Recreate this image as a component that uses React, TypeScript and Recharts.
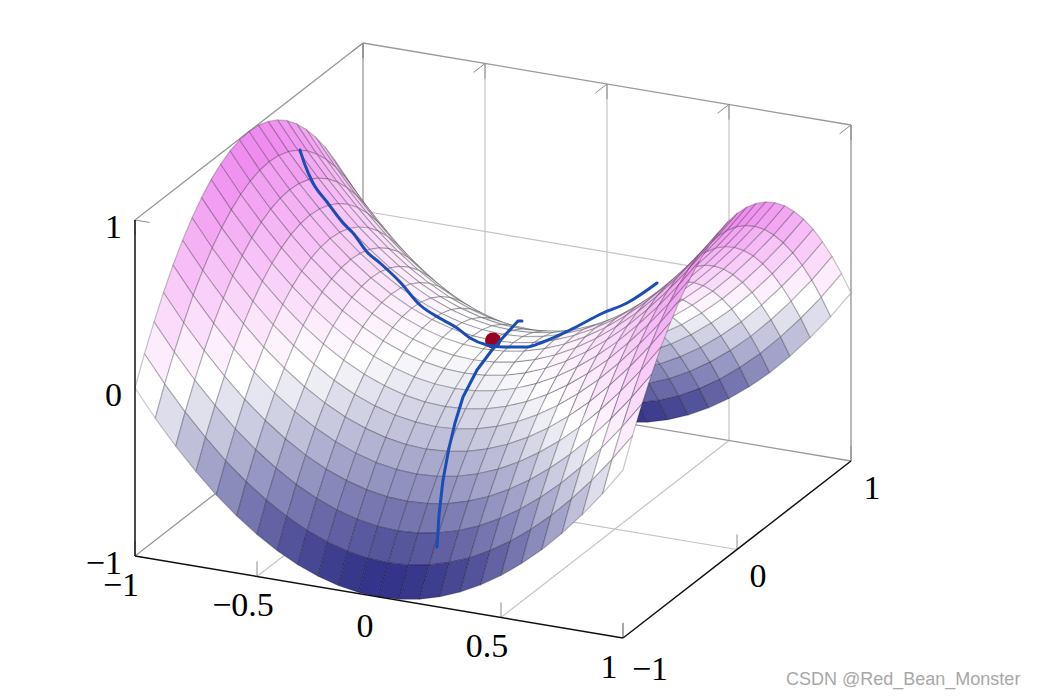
import React from 'react'
import { ScatterChart, Scatter, XAxis, YAxis } from 'recharts'

const WIDTH = 1044
const HEIGHT = 698

// sampled grid of the saddle
const xGrid = [-1, -0.917, -0.833, -0.75, -0.667, -0.583, -0.5, -0.417, -0.333, -0.25, -0.167, -0.083, 0, 0.083, 0.167, 0.25, 0.333, 0.417, 0.5, 0.583, 0.667, 0.75, 0.833, 0.917, 1]
const yGrid = xGrid

const zEdge = [0, -0.16, -0.306, -0.437, -0.556, -0.66, -0.75, -0.826, -0.889, -0.937, -0.972, -0.993, -1, -0.993, -0.972, -0.937, -0.889, -0.826, -0.75, -0.66, -0.556, -0.437, -0.306, -0.16, 0]
const z11 = [0.16, 0, -0.146, -0.277, -0.396, -0.5, -0.59, -0.666, -0.729, -0.777, -0.812, -0.833, -0.84, -0.833, -0.812, -0.777, -0.729, -0.666, -0.59, -0.5, -0.396, -0.277, -0.146, 0, 0.16]
const z10 = [0.306, 0.146, 0, -0.131, -0.25, -0.354, -0.444, -0.52, -0.583, -0.631, -0.666, -0.687, -0.694, -0.687, -0.666, -0.631, -0.583, -0.52, -0.444, -0.354, -0.25, -0.131, 0, 0.146, 0.306]
const z9 = [0.437, 0.277, 0.131, 0, -0.119, -0.223, -0.313, -0.389, -0.452, -0.5, -0.535, -0.556, -0.563, -0.556, -0.535, -0.5, -0.452, -0.389, -0.313, -0.223, -0.119, 0, 0.131, 0.277, 0.437]
const z8 = [0.556, 0.396, 0.25, 0.119, 0, -0.104, -0.194, -0.27, -0.333, -0.381, -0.416, -0.437, -0.444, -0.437, -0.416, -0.381, -0.333, -0.27, -0.194, -0.104, 0, 0.119, 0.25, 0.396, 0.556]
const z7 = [0.66, 0.5, 0.354, 0.223, 0.104, 0, -0.09, -0.166, -0.229, -0.277, -0.312, -0.333, -0.34, -0.333, -0.312, -0.277, -0.229, -0.166, -0.09, 0, 0.104, 0.223, 0.354, 0.5, 0.66]
const z6 = [0.75, 0.59, 0.444, 0.313, 0.194, 0.09, 0, -0.076, -0.139, -0.187, -0.222, -0.243, -0.25, -0.243, -0.222, -0.187, -0.139, -0.076, 0, 0.09, 0.194, 0.313, 0.444, 0.59, 0.75]
const z5 = [0.826, 0.666, 0.52, 0.389, 0.27, 0.166, 0.076, 0, -0.063, -0.111, -0.146, -0.167, -0.174, -0.167, -0.146, -0.111, -0.063, 0, 0.076, 0.166, 0.27, 0.389, 0.52, 0.666, 0.826]
const z4 = [0.889, 0.729, 0.583, 0.452, 0.333, 0.229, 0.139, 0.063, 0, -0.048, -0.083, -0.104, -0.111, -0.104, -0.083, -0.048, 0, 0.063, 0.139, 0.229, 0.333, 0.452, 0.583, 0.729, 0.889]
const z3 = [0.937, 0.777, 0.631, 0.5, 0.381, 0.277, 0.187, 0.111, 0.048, 0, -0.035, -0.056, -0.063, -0.056, -0.035, 0, 0.048, 0.111, 0.187, 0.277, 0.381, 0.5, 0.631, 0.777, 0.937]
const z2 = [0.972, 0.812, 0.666, 0.535, 0.416, 0.312, 0.222, 0.146, 0.083, 0.035, 0, -0.021, -0.028, -0.021, 0, 0.035, 0.083, 0.146, 0.222, 0.312, 0.416, 0.535, 0.666, 0.812, 0.972]
const z1 = [0.993, 0.833, 0.687, 0.556, 0.437, 0.333, 0.243, 0.167, 0.104, 0.056, 0.021, 0, -0.007, 0, 0.021, 0.056, 0.104, 0.167, 0.243, 0.333, 0.437, 0.556, 0.687, 0.833, 0.993]
const z0 = [1, 0.84, 0.694, 0.563, 0.444, 0.34, 0.25, 0.174, 0.111, 0.063, 0.028, 0.007, 0, 0.007, 0.028, 0.063, 0.111, 0.174, 0.25, 0.34, 0.444, 0.563, 0.694, 0.84, 1]
const zRows = [zEdge, z11, z10, z9, z8, z7, z6, z5, z4, z3, z2, z1, z0, z1, z2, z3, z4, z5, z6, z7, z8, z9, z10, z11, zEdge]

const xTicks = [-1, -0.5, 0, 0.5, 1]
const yTicks = [-1, 0, 1]
const zTicks = [-1, 0, 1]

// hand drawn paths, in the plane of the picture
const pathAcross = [[300, 150], [305, 165], [313, 183], [327, 202], [343, 223], [353, 233], [367, 252], [380, 263], [400, 282], [420, 305], [443, 320], [457, 328], [470, 338], [487, 345], [503, 347], [527, 347], [543, 342], [570, 330], [603, 313], [627, 303], [657, 283]]
const pathUp = [[437, 547], [439, 515], [443, 480], [449, 448], [455, 423], [463, 397], [477, 370], [492, 350], [507, 333], [518, 321], [522, 321]]

// oblique view of the box
const project = (x: number, y: number, z: number) => ({
  u: 493 + 244 * x + 114 * y,
  v: 340.5 + 41 * x - 88.5 * y - 168 * z,
})

const mix = (a: number[], b: number[], t: number) =>
  `rgb(${a.map((c, i) => Math.round(c + (b[i] - c) * t)).join(',')})`

const cellColor = (z: number) =>
  z < 0 ? mix([255, 255, 255], [34, 34, 127], -z) : mix([255, 255, 255], [238, 130, 238], z)

// back to front, the corner x=1,y=-1 is closest
const cells: { corners: number[][]; depth: number; color: string }[] = []
for (let j = 0; j < yGrid.length - 1; j++) {
  for (let i = 0; i < xGrid.length - 1; i++) {
    const corners = [
      [xGrid[i], yGrid[j], zRows[j][i]],
      [xGrid[i + 1], yGrid[j], zRows[j][i + 1]],
      [xGrid[i + 1], yGrid[j + 1], zRows[j + 1][i + 1]],
      [xGrid[i], yGrid[j + 1], zRows[j + 1][i]],
    ]
    const meanZ = corners.reduce((s, c) => s + c[2], 0) / 4
    cells.push({ corners, depth: xGrid[i] - yGrid[j], color: cellColor(meanZ) })
  }
}
cells.sort((a, b) => a.depth - b.depth)
const cellPoints = cells.flatMap(c => c.corners.map(p => project(p[0], p[1], p[2])))

const seg = (a: number[], b: number[]) => [project(a[0], a[1], a[2]), project(b[0], b[1], b[2])]

const gridSegs = [
  ...xTicks.slice(1, 4).flatMap(x => [...seg([x, 1, -1], [x, 1, 1]), ...seg([x, -1, -1], [x, 1, -1])]),
  ...yTicks.slice(1, 2).flatMap(y => [...seg([-1, y, -1], [-1, y, 1]), ...seg([-1, y, -1], [1, y, -1])]),
  ...seg([-1, 1, 0], [1, 1, 0]),
  ...seg([-1, -1, 0], [-1, 1, 0]),
]
const boxSegs = [
  ...seg([-1, -1, 1], [-1, 1, 1]),
  ...seg([-1, 1, 1], [1, 1, 1]),
  ...seg([-1, 1, 1], [-1, 1, -1]),
  ...seg([-1, 1, -1], [1, 1, -1]),
  ...seg([-1, -1, -1], [-1, 1, -1]),
]
const rightEdge = seg([1, 1, 1], [1, 1, -1])
const frontSegs = [
  ...seg([-1, -1, -1], [1, -1, -1]),
  ...seg([1, -1, -1], [1, 1, -1]),
  ...seg([-1, -1, -1], [-1, -1, 1]),
]
const tickSegs = [
  ...xTicks.flatMap(x => [...seg([x, -1, -1], [x, -1, -0.91]), ...seg([x, 1, 1], [x, 1, 0.91]), ...seg([x, 1, 1], [x, 0.9, 1])]),
  ...yTicks.flatMap(y => [...seg([1, y, -1], [1, y, -0.91]), ...seg([-1, y, 1], [-1, y, 0.91])]),
  ...zTicks.flatMap(z => seg([-1, -1, z], [-0.94, -1, z])),
]

const tickText = (v: number) => String(v).replace('-', '\u2212')

const xLabels = xTicks.map(x => {
  const p = project(x, -1, -1)
  return { u: p.u - 14, v: p.v + 28, label: tickText(x) }
})
const yLabels = yTicks.map(y => {
  const p = project(1, y, -1)
  return { u: p.u + (y < 0 ? 27 : 21), v: p.v + (y < 0 ? 30 : 26), label: tickText(y) }
})
const zLabels = zTicks.map(z => {
  const p = project(-1, -1, z)
  return { u: p.u - 13, v: p.v + 6, label: tickText(z) }
})

const toPoints = (list: number[][]) => list.map(p => ({ u: p[0], v: p[1] }))
const saddlePoint = [project(0, 0, 0)]

const noPoint = () => <g />

const drawSegments = (stroke: string, width: number) => (props: any) => {
  const pts = props.points as { x: number; y: number }[]
  const out = []
  for (let i = 0; i + 1 < pts.length; i += 2) {
    out.push(<line key={i} x1={pts[i].x} y1={pts[i].y} x2={pts[i + 1].x} y2={pts[i + 1].y} stroke={stroke} strokeWidth={width} />)
  }
  return <g>{out}</g>
}

const drawCells = (props: any) => {
  const pts = props.points as { x: number; y: number }[]
  return (
    <g>
      {cells.map((c, i) => {
        const quad = pts.slice(i * 4, i * 4 + 4)
        return (
          <polygon
            key={i}
            points={quad.map(p => `${p.x},${p.y}`).join(' ')}
            fill={c.color}
            stroke="rgba(0,0,0,0.22)"
            strokeWidth={1.2}
            strokeLinejoin="round"
          />
        )
      })}
    </g>
  )
}

const tickLabel = (anchor: 'middle' | 'end') => (props: any) => (
  <text
    x={props.cx}
    y={props.cy}
    textAnchor={anchor}
    dominantBaseline="central"
    fontFamily="'Liberation Serif', serif"
    fontSize={34}
    fill="#000"
  >
    {props.payload.label}
  </text>
)

function Segments({ data, stroke, width }: { data: { u: number; v: number }[]; stroke: string; width: number }) {
  return null
}

export default function App() {
  return (
    <div style={{ position: 'absolute', left: 0, top: 0, width: WIDTH, height: HEIGHT, background: '#fff' }}>
      <ScatterChart width={WIDTH} height={HEIGHT} margin={{ top: 0, right: 0, bottom: 0, left: 0 }}>
        <XAxis type="number" dataKey="u" domain={[0, WIDTH]} hide />
        <YAxis type="number" dataKey="v" domain={[0, HEIGHT]} reversed hide />

        <Scatter data={gridSegs} shape={noPoint} line={drawSegments('#c4c4c4', 1.2)} isAnimationActive={false} />
        <Scatter data={boxSegs} shape={noPoint} line={drawSegments('#999999', 1.3)} isAnimationActive={false} />
        <Scatter data={rightEdge} shape={noPoint} line={drawSegments('#b0b0b0', 1.8)} isAnimationActive={false} />
        <Scatter data={tickSegs} shape={noPoint} line={drawSegments('#8c8c8c', 1)} isAnimationActive={false} />

        <Scatter data={cellPoints} shape={noPoint} line={drawCells} isAnimationActive={false} />

        <Scatter data={frontSegs} shape={noPoint} line={drawSegments('#111111', 1.5)} isAnimationActive={false} />

        <Scatter
          data={saddlePoint}
          shape={(p: any) => <circle cx={p.cx} cy={p.cy} r={8} fill="#9a0022" />}
          isAnimationActive={false}
        />
        <Scatter
          data={toPoints(pathAcross)}
          shape={noPoint}
          line={{ stroke: '#1a4db5', strokeWidth: 3, strokeLinecap: 'round', strokeLinejoin: 'round' }}
          lineJointType="monotoneX"
          isAnimationActive={false}
        />
        <Scatter
          data={toPoints(pathUp)}
          shape={noPoint}
          line={{ stroke: '#1a4db5', strokeWidth: 3, strokeLinecap: 'round', strokeLinejoin: 'round' }}
          isAnimationActive={false}
        />

        <Scatter data={xLabels} shape={tickLabel('middle')} isAnimationActive={false} />
        <Scatter data={yLabels} shape={tickLabel('middle')} isAnimationActive={false} />
        <Scatter data={zLabels} shape={tickLabel('end')} isAnimationActive={false} />

        <text x={786} y={685} fontFamily="'Liberation Sans', sans-serif" fontSize={18} fill="#a8a8a8">
          CSDN @Red_Bean_Monster
        </text>
      </ScatterChart>
    </div>
  )
}
